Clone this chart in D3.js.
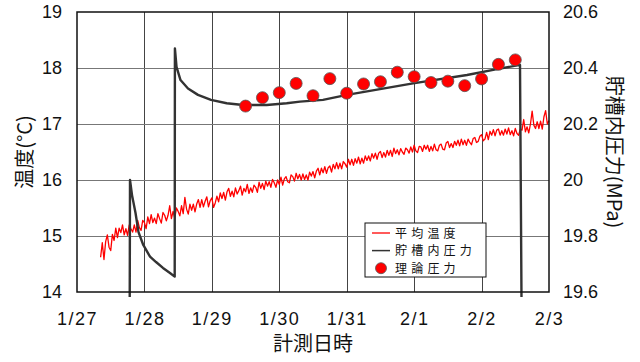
<!DOCTYPE html>
<html><head><meta charset="utf-8">
<script src="https://cdn.jsdelivr.net/npm/d3@7"></script>
<style>
html,body{margin:0;padding:0;background:#fff;}
svg{display:block;}
text{font-family:"Liberation Sans",Arial,sans-serif;fill:#111;}
.jp{font-family:"Noto Sans CJK JP","Noto Sans",sans-serif;}
</style></head>
<body><svg id="c" width="640" height="362"></svg>
<script>
// ---- data ----
const xTickLabels = ["1/27","1/28","1/29","1/30","1/31","2/1","2/2","2/3"]; // day 0..7
const leftTicks = [14,15,16,17,18,19];
const rightTicks = [19.6,19.8,20,20.2,20.4,20.6];
const rightTickLabels = ["19.6","19.8","20","20.2","20.4","20.6"];

// average temperature (°C), sampled every 0.025 day from day 0.35
const tempStart = 0.35, tempStep = 0.025;
const tempValues = [
14.62,14.88,14.58,14.90,15.02,14.80,14.74,15.03,14.92,15.14,
14.97,15.14,15.06,15.20,15.02,15.13,15.01,15.20,15.13,15.07,
15.20,15.07,15.28,15.15,15.10,15.28,15.24,15.13,15.34,15.22,
15.38,15.24,15.32,15.22,15.40,15.31,15.23,15.42,15.37,15.27,
15.37,15.54,15.31,15.44,15.32,15.50,15.44,15.36,15.54,15.40,
15.69,15.48,15.39,15.57,15.46,15.57,15.43,15.57,15.65,15.51,
15.65,15.52,15.62,15.70,15.52,15.63,15.68,15.51,15.59,15.71,
15.61,15.77,15.67,15.78,15.64,15.79,15.85,15.71,15.80,15.70,
15.86,15.75,15.81,15.89,15.73,15.85,15.79,15.92,15.76,15.86,
15.78,15.91,15.87,15.78,15.96,15.85,15.94,15.83,15.98,15.89,
15.97,15.87,16.01,15.95,15.87,16.00,15.92,16.05,15.91,16.02,
16.06,15.97,15.95,16.09,16.06,15.98,16.12,16.02,16.10,16.00,
16.11,16.01,16.09,16.00,16.14,16.07,16.15,16.04,16.16,16.21,
16.09,16.21,16.13,16.24,16.12,16.22,16.25,16.14,16.28,16.20,
16.31,16.20,16.30,16.20,16.33,16.29,16.23,16.37,16.27,16.37,
16.26,16.38,16.30,16.41,16.29,16.39,16.30,16.43,16.35,16.43,
16.34,16.47,16.39,16.48,16.37,16.48,16.51,16.40,16.49,16.41,
16.53,16.44,16.53,16.42,16.57,16.47,16.54,16.45,16.56,16.50,
16.46,16.57,16.54,16.48,16.59,16.50,16.62,16.52,16.49,16.60,
16.59,16.51,16.62,16.55,16.62,16.51,16.60,16.52,16.64,16.54,
16.52,16.62,16.64,16.55,16.54,16.66,16.69,16.58,16.65,16.58,
16.69,16.62,16.71,16.61,16.73,16.63,16.71,16.62,16.73,16.67,
16.63,16.74,16.76,16.67,16.69,16.78,16.81,16.70,16.73,16.85,
16.72,16.87,16.80,16.90,16.79,16.89,16.91,16.80,16.88,16.80,
16.91,16.82,16.93,16.81,16.88,16.79,16.92,16.83,16.80,16.91,
16.89,17.08,16.86,16.95,16.84,17.00,17.23,16.98,16.92,17.04,
16.92,17.05,16.91,17.13,17.24,17.00,17.06
];

// tank internal pressure (MPa)
const pressTimes  = [0.782,0.786,0.816,0.868,0.912,0.983,1.083,1.172,1.275,1.379,1.449,
                     1.452,1.476,1.535,1.646,1.794,1.987,2.220,2.462,2.813,3.110,3.307,3.648,4.004,4.983,5.784,6.229,6.570,6.592];
const pressValues = [19.582,20.00,19.946,19.882,19.814,19.768,19.726,19.707,19.686,19.668,19.655,
                     20.470,20.404,20.357,20.327,20.304,20.286,20.274,20.268,20.268,20.274,20.280,20.286,20.304,20.345,20.375,20.396,20.411,19.582];

// theoretical pressure (MPa)
const theoryTimes  = [2.5,2.75,3.0,3.25,3.5,3.75,4.0,4.25,4.5,4.75,5.0,5.25,5.5,5.75,6.0,6.25,6.5];
const theoryValues = [20.264,20.294,20.312,20.345,20.301,20.362,20.310,20.343,20.351,20.385,20.369,20.348,20.353,20.337,20.361,20.413,20.429];

const legendLabels = ["平均温度","貯槽内圧力","理論圧力"];

// ---- chart ----
const L=77,R=549,T=12,B=292;
const svg=d3.select("#c");
svg.append("rect").attr("width",640).attr("height",362).attr("fill","#fff");
const x=d3.scaleLinear().domain([0,7]).range([L,R]);
const yL=d3.scaleLinear().domain([14,19]).range([B,T]);
const yR=d3.scaleLinear().domain([19.6,20.6]).range([B,T]);

// grid
const g=svg.append("g");
g.selectAll(".vg").data(d3.range(1,7)).enter().append("line")
 .attr("x1",d=>Math.round(x(d))+0.5).attr("x2",d=>Math.round(x(d))+0.5)
 .attr("y1",T).attr("y2",B).attr("stroke","#444").attr("stroke-width",1);
g.selectAll(".hg").data(leftTicks.slice(1,-1)).enter().append("line")
 .attr("x1",L).attr("x2",R).attr("y1",d=>Math.round(yL(d))+0.5).attr("y2",d=>Math.round(yL(d))+0.5)
 .attr("stroke","#777").attr("stroke-width",1.2);

// temperature line
const tempLine=d3.line().x((d,i)=>x(tempStart+i*tempStep)).y(d=>yL(d));
svg.append("path").datum(tempValues).attr("d",tempLine)
 .attr("fill","none").attr("stroke","#ff0000").attr("stroke-width",1.3).attr("stroke-linejoin","round");

// pressure line
const pLine=d3.line().x((d,i)=>x(pressTimes[i])).y(d=>yR(d));
svg.append("path").datum(pressValues).attr("d",pLine)
 .attr("fill","none").attr("stroke","#333").attr("stroke-width",2.4).attr("stroke-linejoin","round");

// frame
svg.append("rect").attr("x",L).attr("y",T).attr("width",R-L).attr("height",B-T)
 .attr("fill","none").attr("stroke","#111").attr("stroke-width",1.5);

// theory points
svg.selectAll(".pt").data(theoryValues).enter().append("circle")
 .attr("cx",(d,i)=>x(theoryTimes[i])).attr("cy",d=>yR(d)).attr("r",6)
 .attr("fill","#ff0000").attr("stroke","#555").attr("stroke-width",0.8);

// axes
const axL=d3.axisLeft(yL).tickValues(leftTicks).tickSize(0).tickPadding(15).tickFormat(d3.format("d"));
const aL=svg.append("g").attr("transform",`translate(${L},0)`).call(axL);
const axR=d3.axisRight(yR).tickValues(rightTicks).tickSize(0).tickPadding(14).tickFormat((d,i)=>rightTickLabels[i]);
const aR=svg.append("g").attr("transform",`translate(${R},0)`).call(axR);
const axB=d3.axisBottom(x).tickValues(d3.range(0,8)).tickSize(0).tickPadding(20).tickFormat((d,i)=>xTickLabels[i]);
const aB=svg.append("g").attr("transform",`translate(0,${B})`).call(axB);
[aL,aR,aB].forEach(a=>{a.select(".domain").remove();a.selectAll("text").attr("font-size",18).attr("font-family","Liberation Sans, Arial, sans-serif").attr("fill","#111");});
aB.selectAll("text").attr("letter-spacing",1.5);

// axis titles
svg.append("text").attr("class","jp").attr("transform",`translate(32,${(T+B)/2}) rotate(-90)`)
 .attr("text-anchor","middle").attr("font-size",20).text("温度(°C)");
svg.append("text").attr("class","jp").attr("transform",`translate(607,${(T+B)/2}) rotate(90)`)
 .attr("text-anchor","middle").attr("font-size",20).text("貯槽内圧力(MPa)");
svg.append("text").attr("class","jp").attr("x",(L+R)/2).attr("y",351)
 .attr("text-anchor","middle").attr("font-size",20).text("計測日時");

// legend
const lg=svg.append("g").attr("transform","translate(365,223)");
lg.append("rect").attr("width",121).attr("height",54).attr("fill","#fff").attr("stroke","#111").attr("stroke-width",1);
legendLabels.forEach((t,i)=>{
  const cy=10+i*17.6;
  if(i===0) lg.append("line").attr("x1",7).attr("x2",25).attr("y1",cy).attr("y2",cy).attr("stroke","#ff0000").attr("stroke-width",1.3);
  if(i===1) lg.append("line").attr("x1",7).attr("x2",25).attr("y1",cy).attr("y2",cy).attr("stroke","#333").attr("stroke-width",1.5);
  if(i===2) lg.append("circle").attr("cx",16).attr("cy",cy).attr("r",5.5).attr("fill","#ff0000").attr("stroke","#555").attr("stroke-width",0.8);
  lg.append("text").attr("class","jp").attr("x",30).attr("y",cy+4.5).attr("font-size",12).attr("letter-spacing",4.2).text(t);
});
</script></body></html>
